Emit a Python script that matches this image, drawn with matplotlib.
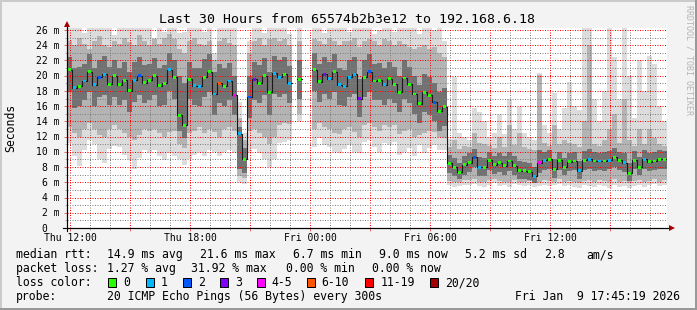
import numpy as np
import matplotlib
matplotlib.use('Agg')
import matplotlib.pyplot as plt
import matplotlib.transforms as mtransforms
from matplotlib.patches import Rectangle

nan = np.nan

# 15 minute steps starting Thu 11:51 (hours counted from Thu 00:00)
start_h = 11.85
step_h = 0.25

median_ms = [
    20.8, 18.4, 18.6, 19.3, 20.5, 18.8, 19.8, 20.2, 18.9, 20.0, 18.8, 19.4, 18.0, 19.4, 20.0, 19.1, 19.4, 20.0, 18.7, 19.0,
    20.8, 19.8, 14.8, 13.5, 19.5, 18.7, 18.6, 19.8, 20.5, 17.6, 19.0, 18.6, 19.3, 17.4, 12.4, 9.0, 17.2, 19.5, 19.0, 20.0,
    17.8, 20.3, 19.8, 20.2, 19.0, nan, 19.5, nan, nan, 20.8, 19.2, 20.2, 19.6, 20.5, 18.8, 18.6, 19.8, 20.2, 17.0, 19.8,
    20.5, 19.3, 19.4, 18.8, 19.6, 18.9, 17.8, 19.7, 18.9, 17.6, 16.3, 17.8, 17.4, 16.5, 15.3, 15.9, 8.5, 8.0, 7.3, 8.3,
    8.6, 9.3, 8.0, 8.0, 8.9, 8.3, 8.6, 8.2, 8.8, 8.2, 7.5, 7.5, 7.4, 6.8, 8.6, 8.9, 9.0, 7.7, 8.9, 8.0,
    8.7, 8.8, 7.5, 8.9, 9.0, 8.8, 8.8, 8.8, 8.9, 9.3, 8.9, 8.6, 7.2, 8.9, 8.0, 9.0, 8.7, 8.8, 9.0, 9.0,
]

# lost pings out of 20 for every step
loss_pings = [
    0, 1, 0, 1, 0, 1, 2, 1, 0, 0, 0, 0, 0, 1, 2, 0, 0, 0, 0, 0,
    1, 0, 0, 0, 0, 1, 1, 0, 0, 1, 7, 0, 1, 4, 1, 0, 2, 3, 0, 0,
    0, 1, 1, 0, 1, 0, 0, 0, 0, 0, 0, 3, 1, 0, 1, 1, 1, 1, 3, 0,
    2, 0, 0, 1, 0, 0, 0, 0, 0, 0, 0, 0, 0, 2, 0, 0, 0, 0, 0, 0,
    0, 2, 1, 0, 0, 0, 0, 0, 0, 0, 0, 0, 0, 1, 4, 1, 0, 0, 0, 0,
    0, 0, 1, 0, 1, 0, 1, 0, 1, 0, 0, 1, 0, 0, 0, 1, 0, 0, 0, 0,
]

# smoke: outer (all pings), middle and inner ping ranges, ms
outer_lo = [
    11.2, 9.5, 8.2, 10.3, 11.5, 11.0, 9.0, 8.6, 10.4, 10.8, 10.6, 9.6, 8.9, 7.7, 9.2, 10.2, 10.0, 10.2, 9.5, 8.9,
    9.8, 9.4, 9.0, 8.3, 9.1, 9.6, 10.0, 9.4, 10.2, 10.0, 9.4, 10.0, 10.2, 9.8, 6.0, 5.8, 9.9, 10.4, 9.8, 9.1,
    8.0, 9.1, 11.1, 11.3, 11.6, nan, 14.0, nan, nan, 10.7, 11.8, 10.9, 10.7, 10.0, 9.8, 10.4, 10.9, 10.0, 9.8, 11.3,
    11.6, 10.7, 10.0, 11.1, 10.9, 11.3, 9.6, 10.0, 10.5, 9.4, 10.9, 9.8, 10.5, 10.9, 10.2, 10.2, 5.6, 5.4, 5.5, 5.7,
    5.6, 5.8, 5.5, 5.4, 5.7, 5.9, 5.5, 5.6, 5.4, 5.8, 5.7, 5.5, 5.6, 5.4, 5.5, 5.7, 5.5, 5.6, 5.8, 5.5,
    5.6, 5.4, 5.3, 5.6, 5.5, 5.4, 5.7, 5.5, 5.3, 5.6, 5.4, 5.5, 5.2, 5.5, 5.7, 5.4, 5.6, 5.8, 5.5, 5.6,
]
outer_hi = [
    26.3, 26.3, 26.3, 25.6, 26.3, 26.3, 26.3, 26.3, 26.3, 25.4, 26.3, 26.3, 26.3, 26.3, 26.3, 26.3, 26.3, 25.0, 26.3, 25.8,
    26.3, 26.3, 25.6, 25.8, 26.3, 26.3, 26.3, 25.8, 26.3, 23.0, 26.3, 26.3, 26.3, 26.3, 16.5, 12.5, 24.5, 26.3, 26.3, 25.6,
    26.3, 26.3, 26.3, 26.3, 25.5, nan, 26.3, nan, nan, 26.3, 26.3, 25.6, 26.3, 26.3, 26.3, 26.3, 25.8, 26.3, 26.3, 26.3,
    26.3, 25.5, 26.0, 26.3, 26.3, 25.8, 26.3, 26.3, 26.3, 26.3, 25.5, 26.3, 26.3, 26.0, 26.3, 24.5, 11.7, 19.8, 12.5, 12.0,
    11.5, 15.7, 15.2, 14.0, 12.0, 12.5, 15.0, 12.3, 17.0, 13.0, 15.9, 12.5, 12.0, 11.5, 20.3, 13.5, 12.5, 17.7, 13.0, 15.7,
    19.2, 16.0, 15.5, 26.3, 26.3, 17.0, 14.0, 18.0, 26.3, 22.5, 17.0, 26.3, 20.0, 14.5, 22.0, 18.0, 22.6, 21.5, 16.0, 14.0,
]
mid_lo = [
    13.2, 12.5, 12.0, 13.0, 13.8, 13.0, 12.2, 12.0, 13.0, 13.5, 13.0, 12.5, 12.0, 11.5, 12.2, 13.0, 12.8, 13.0, 12.5, 12.0,
    12.6, 12.8, 11.0, 10.5, 12.5, 12.8, 13.2, 12.5, 13.0, 12.6, 12.0, 13.0, 13.2, 12.8, 6.8, 6.5, 12.8, 13.0, 12.5, 12.0,
    11.0, 12.0, 13.5, 13.8, 13.6, nan, 15.0, nan, nan, 13.0, 13.8, 13.2, 13.0, 12.5, 12.3, 13.0, 13.2, 12.6, 12.0, 13.5,
    13.8, 13.2, 12.8, 13.5, 13.2, 13.5, 12.4, 12.8, 13.0, 12.0, 12.2, 12.5, 12.8, 12.6, 12.0, 11.8, 6.2, 6.0, 6.1, 6.3,
    6.3, 6.4, 6.1, 6.0, 6.3, 6.4, 6.2, 6.1, 6.0, 6.3, 6.1, 6.0, 6.2, 5.9, 6.1, 6.3, 6.2, 6.0, 6.4, 6.1,
    6.2, 6.1, 5.9, 6.2, 6.3, 6.1, 6.3, 6.2, 6.0, 6.4, 6.1, 6.2, 5.9, 6.2, 6.3, 6.0, 6.2, 6.4, 6.1, 6.3,
]
mid_hi = [
    24.5, 24.0, 25.0, 24.2, 23.5, 24.5, 25.2, 24.0, 23.8, 24.6, 24.2, 25.0, 24.4, 24.0, 25.3, 24.5, 24.0, 24.8, 24.2, 25.0,
    25.5, 24.8, 23.5, 23.0, 24.5, 25.0, 24.2, 24.0, 24.6, 22.0, 24.5, 25.0, 24.3, 24.0, 14.5, 11.5, 23.0, 24.5, 25.0, 24.0,
    24.8, 25.0, 24.5, 24.8, 24.0, nan, 24.5, nan, nan, 24.8, 24.5, 24.2, 25.0, 24.5, 24.0, 24.6, 24.5, 25.0, 23.8, 24.5,
    24.8, 24.5, 24.0, 24.8, 24.5, 24.0, 24.5, 24.2, 23.8, 23.5, 23.8, 24.0, 23.5, 23.8, 23.0, 22.5, 10.6, 11.5, 10.4, 10.8,
    10.6, 12.5, 11.2, 11.0, 10.8, 10.5, 12.0, 10.7, 13.5, 10.9, 12.5, 10.6, 10.4, 10.2, 20.1, 11.2, 10.8, 13.5, 11.0, 11.5,
    11.2, 11.0, 10.6, 14.0, 24.0, 11.0, 10.8, 11.5, 13.0, 15.0, 11.2, 17.0, 11.5, 10.8, 13.0, 11.0, 13.0, 11.8, 11.0, 10.8,
]
inner_lo = [
    17.8, 15.8, 16.0, 16.8, 17.8, 16.0, 17.2, 17.5, 16.2, 17.2, 16.2, 16.8, 15.2, 16.5, 17.4, 16.4, 16.8, 17.5, 16.0, 16.2,
    18.0, 17.0, 12.8, 11.8, 17.0, 16.2, 16.0, 17.2, 17.8, 14.8, 16.4, 16.0, 16.8, 14.8, 7.8, 7.2, 14.5, 16.8, 16.4, 17.4,
    14.8, 17.6, 17.2, 17.6, 16.4, nan, 17.0, nan, nan, 18.0, 16.6, 17.6, 17.0, 17.8, 16.2, 16.0, 17.2, 17.6, 14.6, 17.2,
    17.8, 16.8, 16.8, 16.2, 17.0, 16.4, 15.2, 17.0, 16.4, 15.0, 13.8, 15.2, 14.8, 14.0, 12.8, 13.4, 7.2, 6.8, 6.4, 7.0,
    7.4, 8.0, 6.8, 6.8, 7.6, 7.1, 7.4, 7.0, 7.5, 7.0, 6.4, 6.4, 6.3, 5.9, 7.2, 7.6, 7.7, 6.6, 7.6, 6.9,
    7.5, 7.6, 6.4, 7.6, 7.7, 7.5, 7.6, 7.5, 7.7, 8.0, 7.6, 7.4, 6.2, 7.7, 6.9, 7.8, 7.5, 7.6, 7.8, 7.7,
]
inner_hi = [
    22.5, 21.0, 21.2, 21.5, 22.8, 21.0, 22.0, 22.6, 21.2, 22.0, 21.0, 21.8, 20.5, 21.8, 22.5, 21.4, 21.5, 22.3, 21.0, 21.4,
    23.0, 22.0, 20.0, 19.0, 21.8, 21.0, 21.0, 22.2, 22.8, 20.5, 21.5, 21.0, 21.6, 20.0, 13.2, 10.5, 20.0, 21.8, 21.4, 22.3,
    20.5, 22.6, 22.0, 22.5, 21.3, nan, 22.0, nan, nan, 23.0, 21.5, 22.4, 21.8, 22.8, 21.0, 20.8, 22.0, 22.4, 19.6, 22.0,
    22.8, 21.5, 21.6, 21.0, 21.8, 21.2, 20.0, 22.0, 21.2, 20.0, 18.8, 20.2, 19.8, 19.0, 17.8, 18.4, 9.6, 9.2, 8.6, 9.5,
    9.8, 10.4, 9.3, 9.2, 10.0, 9.5, 9.8, 9.4, 10.0, 9.4, 8.8, 8.7, 8.6, 8.0, 10.2, 10.0, 10.2, 9.0, 10.0, 9.2,
    9.9, 10.0, 8.8, 10.1, 10.4, 10.0, 9.9, 10.0, 10.1, 10.5, 10.0, 9.8, 8.5, 10.1, 9.3, 10.2, 9.9, 10.0, 10.2, 10.1,
]

loss_labels = ["0", "1", "2", "3", "4-5", "6-10", "11-19", "20/20"]
loss_colors = ['#26ff00', '#00b8ff', '#0059ff', '#7e00ff', '#ff00ff', '#ff5500', '#ff0000', '#a10000']
loss_upper = [0, 1, 2, 3, 5, 10, 19, 20]

x_tick_hours = [12, 18, 24, 30, 36]
x_tick_labels = ["Thu 12:00", "Thu 18:00", "Fri 00:00", "Fri 06:00", "Fri 12:00"]

title = "Last 30 Hours from 65574b2b3e12 to 192.168.6.18"
stats_rtt = [("median rtt:", 16), ("14.9 ms avg", 107), ("21.6 ms max", 200), ("6.7 ms min", 293),
             ("9.0 ms now", 379), ("5.2 ms sd", 465), ("2.8", 544), ("am/s", 586)]
stats_loss = [("packet loss:", 16), ("1.27 % avg", 107), ("31.92 % max", 191), ("0.00 % min", 286),
              ("0.00 % now", 372)]
probe_text = "20 ICMP Echo Pings (56 Bytes) every 300s"
stamp_text = "Fri Jan  9 17:45:19 2026"

plt.rcParams['font.family'] = 'DejaVu Sans Mono'

W, H = 697, 310
fig = plt.figure(figsize=(W / 100, H / 100), dpi=100, facecolor='#f3f3f3')

# 3d-ish frame around the canvas
for (x0, y0, w, h, c) in [(0, H - 2, W, 2, '#cbcbcb'), (0, 0, 2, H, '#cbcbcb'),
                          (W - 2, 0, 2, H, '#999999'), (0, 0, W, 2, '#999999')]:
    fig.add_artist(Rectangle((x0 / W, y0 / H), w / W, h / H, transform=fig.transFigure,
                             color=c, lw=0))

ax = fig.add_axes([67 / W, 1 - 228 / H, 600 / W, 200 / H])
ax.set_facecolor('white')

n = len(median_ms)
edges = start_h + step_h * np.arange(n + 1)
left = edges[:-1]
centers = left + step_h / 2

# smoke
for lo, hi, col in [(outer_lo, outer_hi, '#dcdcdc'), (mid_lo, mid_hi, '#b4b4b4'),
                    (inner_lo, inner_hi, '#727272')]:
    lo = np.asarray(lo, float)
    hi = np.asarray(hi, float)
    ok = ~np.isnan(lo)
    ax.bar(left[ok], hi[ok] - lo[ok], bottom=lo[ok], width=step_h, align='edge',
           color=col, linewidth=0, zorder=1)

# median line and loss coloured marks
med = np.asarray(median_ms, float)
ax.step(edges, np.append(med, med[-1]), where='post', color='#1a1a1a', lw=0.8, zorder=3)
ok = ~np.isnan(med)
cols = [loss_colors[next(k for k, u in enumerate(loss_upper) if p <= u)] for p in loss_pings]
ax.bar(centers[ok], 0.38, bottom=med[ok] - 0.19, width=0.15,
       color=[c for c, o in zip(cols, ok) if o], linewidth=0, zorder=4)

ax.set_xlim(start_h, start_h + step_h * n)
ax.set_ylim(0, 26.26)

# grid
ax.set_xticks(np.arange(12, 42, 3))
ax.set_xticks(np.arange(12, 42, 1), minor=True)
ax.set_yticks(np.arange(0, 27, 2))
ax.set_yticks(np.arange(0, 27, 1), minor=True)
ax.set_axisbelow(False)
ax.grid(which='major', color=(1, 0, 0, 0.3), ls=(0, (1, 1.5)), lw=0.72)
ax.grid(which='minor', color=(0.5, 0.5, 0.5, 0.28), ls=(0, (1, 1.5)), lw=0.72)
ax.tick_params(which='major', length=2.2, width=0.72, color='#e07070',
               labelbottom=False, labelleft=False)
ax.tick_params(which='minor', length=1.5, width=0.72, color='#b0b0b0')

for s in ['top', 'right']:
    ax.spines[s].set_visible(False)
for s in ['left', 'bottom']:
    ax.spines[s].set_color('black')
    ax.spines[s].set_linewidth(0.8)
    ax.spines[s].set_zorder(5)

# axis extensions and arrows
ax.plot([-4 / 600, 1.006], [0, 0], transform=ax.transAxes, color='black', lw=0.8, clip_on=False, zorder=5)
ax.plot([0, 0], [-3 / 200, 1.02], transform=ax.transAxes, color='black', lw=0.8, clip_on=False, zorder=5)
ax.plot([1.008], [0], transform=ax.transAxes, marker='>', ms=4.5, color='#a00000', mew=0, clip_on=False, zorder=6)
ax.plot([0], [1.022], transform=ax.transAxes, marker='^', ms=4.5, color='#a00000', mew=0, clip_on=False, zorder=6)

# tick labels
ytrans = mtransforms.blended_transform_factory(fig.transFigure, ax.transData) + \
    mtransforms.ScaledTranslation(0, -3.6 / 100, fig.dpi_scale_trans)
for v in range(0, 27, 2):
    if v:
        fig.text(59.5 / W, v, f"{v} m", transform=ytrans, ha='right', va='baseline', fontsize=7)
    else:
        fig.text(47.5 / W, v, "0", transform=ytrans, ha='right', va='baseline', fontsize=7)

xtrans = mtransforms.blended_transform_factory(ax.transData, fig.transFigure)
for h, lab in zip(x_tick_hours, x_tick_labels):
    fig.text(h, 1 - 240.7 / H, lab, transform=xtrans, ha='center', va='baseline', fontsize=7)

fig.text(347 / W, 1 - 23.3 / H, title, ha='center', va='baseline', fontsize=9.5)
fig.text(11 / W, 1 - 128 / H, "Seconds", rotation=90, ha='center', va='center', fontsize=8.3)
fig.text(688.5 / W, 1 - 5 / H, "RRDTOOL / TOBI OETIKER", rotation=-90, ha='center', va='top',
         fontsize=6, color='#b4b4b4')

# legend rows
row_y = [258.3, 272.3, 286.3, 300.0]
for txt, x in stats_rtt:
    fig.text(x / W, 1 - row_y[0] / H, txt, ha='left', va='baseline', fontsize=8.3)
for txt, x in stats_loss:
    fig.text(x / W, 1 - row_y[1] / H, txt, ha='left', va='baseline', fontsize=8.3)
fig.text(16 / W, 1 - row_y[2] / H, "loss color:", ha='left', va='baseline', fontsize=8.3)
box_x = [108, 145.7, 182.7, 220, 256.7, 306.7, 365.3, 430.3]
for bx, lab, c in zip(box_x, loss_labels, loss_colors):
    fig.add_artist(Rectangle((bx / W, 1 - 286.5 / H), 8 / W, 8.5 / H, transform=fig.transFigure,
                             facecolor=c, edgecolor='black', lw=0.72))
    fig.text((bx + 15) / W, 1 - row_y[2] / H, lab, ha='left', va='baseline', fontsize=8.3)
fig.text(16 / W, 1 - row_y[3] / H, "probe:", ha='left', va='baseline', fontsize=8.3)
fig.text(107 / W, 1 - row_y[3] / H, probe_text, ha='left', va='baseline', fontsize=8.3)
fig.text(680 / W, 1 - row_y[3] / H, stamp_text, ha='right', va='baseline', fontsize=8.3)

fig.savefig('out.png', dpi=100, facecolor=fig.get_facecolor())
